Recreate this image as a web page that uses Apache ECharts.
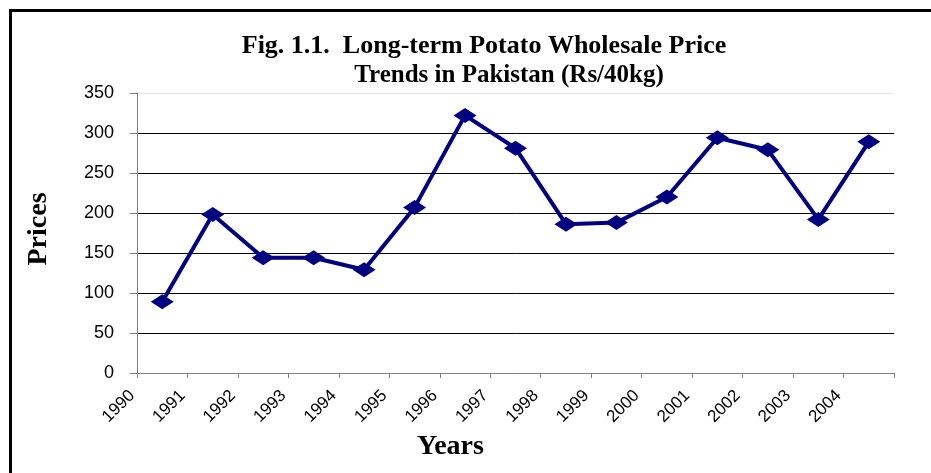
<!DOCTYPE html>
<html>
<head>
<meta charset="utf-8">
<script src="https://cdn.jsdelivr.net/npm/echarts@6/dist/echarts.min.js"></script>
<style>
html,body{margin:0;padding:0;background:#fff;}
#c{width:931px;height:473px;}
</style>
</head>
<body>
<div id="c"></div>
<script>
const years = ['1990','1991','1992','1993','1994','1995','1996','1997','1998','1999','2000','2001','2002','2003','2004'];
const prices = [89, 198, 144, 144, 129, 207, 322, 281, 186, 188, 220, 294, 279, 192, 289];
const tickLabels = years.concat(['']);
const titleLine1 = 'Fig. 1.1.  Long-term Potato Wholesale Price';
const titleLine2 = 'Trends in Pakistan (Rs/40kg)';

const chart = echarts.init(document.getElementById('c'));
const serif = '"Liberation Serif","Times New Roman",serif';
const sans = '"Liberation Sans",Arial,sans-serif';
chart.setOption({
  animation: false,
  backgroundColor: '#fff',
  title: [
    {text: titleLine1, left: 479, top: 28, textAlign: 'center',
     textStyle: {fontFamily: serif, fontWeight: 'bold', fontSize: 26, color: '#000'}},
    {text: titleLine2, left: 504, top: 58, textAlign: 'center',
     textStyle: {fontFamily: serif, fontWeight: 'bold', fontSize: 25, color: '#000'}}
  ],
  graphic: [
    {type: 'rect', shape: {x: 10.5, y: 10.5, width: 1200, height: 1200},
     style: {fill: 'none', stroke: '#000', lineWidth: 3}, silent: true}
  ],
  grid: {left: 137, right: 37, top: 93, bottom: 100},
  xAxis: [
    {type: 'category', data: years, boundaryGap: true, position: 'bottom',
     axisLine: {lineStyle: {color: '#808080', width: 1}},
     axisTick: {show: true, length: 5, lineStyle: {color: '#808080'}},
     axisLabel: {show: false},
     name: 'Years', nameLocation: 'middle', nameGap: 60,
     nameTextStyle: {fontFamily: serif, fontWeight: 'bold', fontSize: 28, color: '#000', padding: [0, 130, 0, 0]}},
    {type: 'category', data: tickLabels, boundaryGap: false, position: 'bottom',
     axisLine: {show: false}, axisTick: {show: false},
     axisLabel: {rotate: 45, margin: 15, interval: 0, fontFamily: sans, fontSize: 17, color: '#000', padding: [0, 7, 0, 0]}}
  ],
  yAxis: {
    type: 'value', min: 0, max: 350, interval: 50,
    axisLine: {show: true, lineStyle: {color: '#808080', width: 1}},
    axisTick: {show: true, length: 7, lineStyle: {color: '#808080'}},
    axisLabel: {fontFamily: sans, fontSize: 18, color: '#000', margin: 23},
    splitLine: {show: true, lineStyle: {color: ['#000','#000','#000','#000','#000','#000','#000','#e6e6e6'], width: 1}},
    name: 'Prices', nameLocation: 'middle', nameGap: 84, nameRotate: 90,
    nameTextStyle: {fontFamily: serif, fontWeight: 'bold', fontSize: 28, color: '#000', padding: [0, 0, 0, 8]}
  },
  series: [{
    type: 'line', xAxisIndex: 0, data: prices,
    symbol: 'diamond', symbolSize: [23, 15],
    lineStyle: {color: '#000080', width: 4},
    itemStyle: {color: '#000080'}
  }]
});
</script>
</body>
</html>
